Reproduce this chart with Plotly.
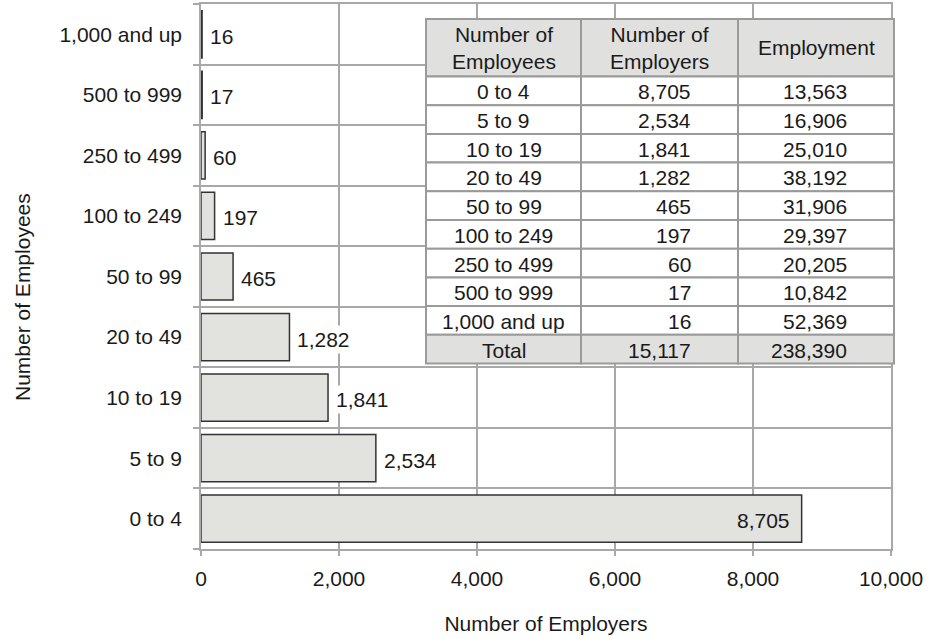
import plotly.graph_objects as go

# ---- data ----
size_classes = ["0 to 4", "5 to 9", "10 to 19", "20 to 49", "50 to 99",
                "100 to 249", "250 to 499", "500 to 999", "1,000 and up"]
employers = [8705, 2534, 1841, 1282, 465, 197, 60, 17, 16]
employment = [13563, 16906, 25010, 38192, 31906, 29397, 20205, 10842, 52369]
total_label = "Total"
total_employers = 15117
total_employment = 238390
table_headers = ["Number of<br>Employees", "Number of<br>Employers", "Employment"]
x_ticks = [0, 2000, 4000, 6000, 8000, 10000]
x_ticklabels = ["0", "2,000", "4,000", "6,000", "8,000", "10,000"]

FONT = "Liberation Sans, Arial, sans-serif"
FS = 21
TXT = "#1a1a1a"
GRID = "#a8a8a8"
BAR_FILL = "#e2e2df"
HEAD_FILL = "#e0e0de"
TBL_LINE = "#9a9a9a"

W, H = 935, 639
ML, MR, MT, MB = 201, 44, 4, 90
PW, PH = W - ML - MR, H - MT - MB


def px(xp):
    return (xp - ML) / PW


def py(yp):
    return (H - MB - yp) / PH


fig = go.Figure()
fig.add_trace(go.Bar(
    y=size_classes, x=employers, orientation="h",
    marker=dict(color=BAR_FILL, line=dict(color="#333333", width=1.5)),
    hoverinfo="skip", showlegend=False,
))

# value labels
inside_threshold = 5000
for cat, v in zip(size_classes, employers):
    if v > inside_threshold:
        fig.add_annotation(x=v, y=cat, xref="x", yref="y", text=f"{v:,}",
                           showarrow=False, xanchor="right", xshift=-10, yshift=-2,
                           font=dict(family=FONT, size=FS, color=TXT))
    else:
        fig.add_annotation(x=v, y=cat, xref="x", yref="y", text=f"{v:,}",
                           showarrow=False, xanchor="left", xshift=5, yshift=-2,
                           bgcolor="white", borderpad=2,
                           font=dict(family=FONT, size=FS, color=TXT))

# ---- table drawn with shapes + annotations ----
col_edges = [426, 581, 738, 894]
top, head_h, row_h = 19, 57.5, 28.7
rows = [(c, f"{a:,}", f"{b:,}") for c, a, b in zip(size_classes, employers, employment)]
rows.append((total_label, f"{total_employers:,}", f"{total_employment:,}"))
right_pad = 45


def cell(x0, x1, y0, y1, fill):
    fig.add_shape(type="rect", xref="paper", yref="paper",
                  x0=px(x0), x1=px(x1), y0=py(y1), y1=py(y0),
                  fillcolor=fill, line=dict(color=TBL_LINE, width=2), layer="above")


def text(x, y, s, anchor):
    fig.add_annotation(xref="paper", yref="paper", x=px(x), y=py(y), text=s,
                       showarrow=False, xanchor=anchor, yanchor="middle",
                       font=dict(family=FONT, size=FS, color=TXT))


# header
for j, h in enumerate(table_headers):
    x0, x1 = col_edges[j], col_edges[j + 1]
    cell(x0, x1, top, top + head_h, HEAD_FILL)
    text((x0 + x1) / 2, top + head_h / 2, h, "center")

# body rows
for i, r in enumerate(rows):
    y0 = top + head_h + i * row_h
    y1 = y0 + row_h
    fill = HEAD_FILL if i == len(rows) - 1 else "white"
    for j, s in enumerate(r):
        x0, x1 = col_edges[j], col_edges[j + 1]
        cell(x0, x1, y0, y1, fill)
        if j == 0:
            text((x0 + x1) / 2, (y0 + y1) / 2 + 1, s, "center")
        else:
            text(x1 - right_pad, (y0 + y1) / 2 + 1, s, "right")

fig.update_layout(
    width=W, height=H,
    margin=dict(l=ML, r=MR, t=MT, b=MB),
    paper_bgcolor="white", plot_bgcolor="white",
    bargap=0.22,
    font=dict(family=FONT, size=FS, color=TXT),
    xaxis=dict(range=[0, 10000], tickvals=x_ticks, ticktext=x_ticklabels,
               automargin=False,
               showgrid=True, gridcolor=GRID, gridwidth=1.5,
               showline=True, linecolor=GRID, linewidth=1.5, mirror=True,
               ticks="outside", ticklen=5, tickcolor=GRID, tickwidth=1.5,
               ticklabelstandoff=5, zeroline=False,
               title=dict(text="Number of Employers", standoff=27,
                          font=dict(family=FONT, size=FS, color=TXT)),
               tickfont=dict(family=FONT, size=FS, color=TXT)),
    yaxis=dict(type="category", categoryorder="array", categoryarray=size_classes,
               automargin=False,
               tickson="boundaries", showgrid=True, gridcolor=GRID, gridwidth=1.5,
               showline=True, linecolor=GRID, linewidth=1.5, mirror=True,
               ticks="outside", ticklen=6, tickcolor=GRID, tickwidth=1.5,
               ticklabelstandoff=13,
               tickfont=dict(family=FONT, size=FS, color=TXT)),
)
fig.add_annotation(text="Number of Employees", xref="paper", yref="paper",
                   x=px(22), y=py(297), xanchor="center", yanchor="middle",
                   textangle=-90, showarrow=False,
                   font=dict(family=FONT, size=FS, color=TXT))

fig.write_html("out.html", config={"displayModeBar": False},
               post_script="document.body.style.margin='0';document.body.style.padding='0';")
